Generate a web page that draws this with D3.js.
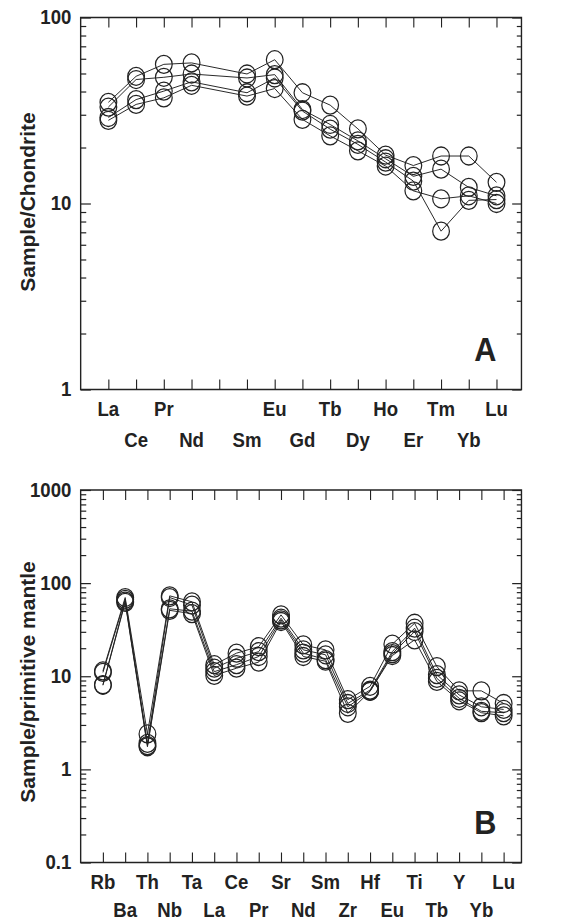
<!DOCTYPE html>
<html>
<head>
<meta charset="utf-8">
<script src="https://cdn.jsdelivr.net/npm/d3@7"></script>
<style>
  html, body { margin: 0; padding: 0; background: #fff; }
  svg { display: block; }
  text { font-family: "Liberation Sans", Arial, Helvetica, sans-serif; font-weight: bold; fill: #222; }
</style>
</head>
<body>
<svg id="chart" width="561" height="922" viewBox="0 0 603 922" preserveAspectRatio="none"></svg>
<script>
// ---------- Panel A: chondrite-normalised REE ----------
const reeElements = ["La","Ce","Pr","Nd","Pm","Sm","Eu","Gd","Tb","Dy","Ho","Er","Tm","Yb","Lu"];
const reeShownLabels = ["La","Ce","Pr","Nd","","Sm","Eu","Gd","Tb","Dy","Ho","Er","Tm","Yb","Lu"];
const reeSample1 = [35, 48.3, 56, 57, null, 49.7, 59.3, 39.4, 33.8, 25.2, 18.2, 16.0, 18.0, 18.0, 13.0];
const reeSample2 = [33, 46.4, 47.7, 49.7, null, 47.3, 49.3, 32.0, 26.6, 21.7, 17.4, 14.0, 15.3, 12.2, 11.0];
const reeSample3 = [29, 36.2, 40.2, 45.1, null, 39.4, 47.3, 31.4, 25.1, 20.8, 16.7, 13.2, 7.1, 10.4, 10.5];
const reeSample4 = [28, 34.1, 37.0, 43.2, null, 37.8, 41.5, 28.3, 23.1, 19.2, 15.9, 11.7, 10.6, 11.0, 10.0];
const reeYTicks = [1, 10, 100];

// ---------- Panel B: primitive-mantle-normalised spider ----------
const spiderElements = ["Rb","Ba","Th","Nb","Ta","La","Ce","Pr","Sr","Nd","Sm","Zr","Hf","Eu","Ti","Tb","Y","Yb","Lu"];
const spiderSample1 = [11.4, 70, 2.4, 73, 63, 13.3, 17.7, 20.8, 45.6, 21.7, 19.2, 5.6, 7.8, 22.1, 37.1, 12.7, 6.97, 6.97, 5.1];
const spiderSample2 = [11.0, 67, 1.9, 70, 58, 12.2, 15.6, 18.4, 42.0, 19.2, 17.0, 5.1, 7.1, 18.4, 32.8, 10.4, 6.3, 4.7, 4.4];
const spiderSample3 = [8.1, 64, 1.8, 53, 50, 11.2, 13.3, 16.3, 40.3, 17.7, 15.1, 4.7, 6.9, 17.5, 30.2, 9.5, 5.8, 4.2, 4.06];
const spiderSample4 = [8.0, 62, 1.75, 51, 47, 10.2, 12.2, 14.2, 38.7, 16.3, 14.5, 4.0, 6.9, 16.7, 24.6, 8.8, 5.45, 4.06, 3.76];
const spiderYTicks = [0.1, 1, 10, 100, 1000];

const svg = d3.select("#chart");
const INK = "#222";

function drawPanel(cfg) {
  const g = svg.append("g");
  const x = d3.scaleLinear().domain([0, cfg.xMax]).range([cfg.left, cfg.right]);
  const y = d3.scaleLog().domain(cfg.yDomain).range([cfg.bottom, cfg.top]);
  const idx = d3.range(1, cfg.labels.length + 1);

  // minor ticks for log axis
  const minor = [];
  for (let e = Math.log10(cfg.yDomain[0]); e < Math.log10(cfg.yDomain[1]); e++) {
    for (let m = 2; m <= 9; m++) minor.push(m * Math.pow(10, e));
  }

  const styleAxis = sel => {
    sel.select(".domain").remove();
    sel.selectAll("line").attr("stroke", INK).attr("stroke-width", 1.2);
    sel.selectAll("text").attr("font-size", 20).attr("fill", INK)
      .style("font-family", "'Liberation Sans', Arial, sans-serif").style("font-weight", "bold");
  };

  // left axis (major with labels, minor without)
  g.append("g").attr("transform", `translate(${cfg.left},0)`)
    .call(d3.axisLeft(y).tickValues(cfg.yTicks).tickSize(-11).tickPadding(10)
      .tickFormat(d => d3.format("~g")(d)))
    .call(styleAxis);
  g.append("g").attr("transform", `translate(${cfg.left},0)`)
    .call(d3.axisLeft(y).tickValues(minor).tickSize(-6).tickFormat(""))
    .call(styleAxis);
  // right axis
  g.append("g").attr("transform", `translate(${cfg.right},0)`)
    .call(d3.axisRight(y).tickValues(cfg.yTicks).tickSize(-10).tickFormat(""))
    .call(styleAxis);
  g.append("g").attr("transform", `translate(${cfg.right},0)`)
    .call(d3.axisRight(y).tickValues(minor).tickSize(-5).tickFormat(""))
    .call(styleAxis);
  // bottom & top axes (inward ticks)
  g.append("g").attr("transform", `translate(0,${cfg.bottom})`)
    .call(d3.axisBottom(x).tickValues(idx).tickSize(-10).tickFormat(""))
    .call(styleAxis);
  g.append("g").attr("transform", `translate(0,${cfg.top})`)
    .call(d3.axisTop(x).tickValues(idx).tickSize(-10).tickFormat(""))
    .call(styleAxis);

  // frame
  g.append("rect")
    .attr("x", cfg.left).attr("y", cfg.top)
    .attr("width", cfg.right - cfg.left).attr("height", cfg.bottom - cfg.top)
    .attr("fill", "none").attr("stroke", INK).attr("stroke-width", 1.5);

  // element labels in two staggered rows
  g.append("g").selectAll("text").data(cfg.labels.map((l, i) => ({ l, i: i + 1 })))
    .join("text")
    .attr("x", d => x(d.i))
    .attr("y", d => cfg.bottom + (d.i % 2 === 1 ? cfg.row1 : cfg.row2))
    .attr("text-anchor", "middle")
    .attr("font-size", 20)
    .text(d => d.l);

  // y title
  g.append("text")
    .attr("transform", `translate(${cfg.titleX},${cfg.titleY}) rotate(-90)`)
    .attr("text-anchor", "middle")
    .attr("font-size", 21)
    .text(cfg.title);

  // panel letter
  g.append("text")
    .attr("x", cfg.right - 27).attr("y", cfg.bottom - 28)
    .attr("text-anchor", "end")
    .attr("font-size", 33)
    .text(cfg.letter);

  // series
  const line = d3.line().x(d => x(d.i)).y(d => y(d.v));
  cfg.series.forEach(s => {
    const pts = s.map((v, i) => ({ v, i: i + 1 })).filter(d => d.v != null);
    g.append("path").datum(pts)
      .attr("d", line)
      .attr("fill", "none").attr("stroke", INK).attr("stroke-width", 1);
    g.append("g").selectAll("circle").data(pts).join("circle")
      .attr("cx", d => x(d.i)).attr("cy", d => y(d.v)).attr("r", 9)
      .attr("fill", "none").attr("stroke", INK).attr("stroke-width", 1.3);
  });
}

drawPanel({
  left: 86.7, right: 560.5, top: 17.5, bottom: 389.5,
  xMax: 15.9, yDomain: [1, 100], yTicks: reeYTicks,
  labels: reeShownLabels,
  series: [reeSample1, reeSample2, reeSample3, reeSample4],
  row1: 27, row2: 58,
  title: "Sample/Chondrite", titleX: 38, titleY: 202,
  letter: "A"
});

drawPanel({
  left: 86.7, right: 560.5, top: 490, bottom: 862.5,
  xMax: 19.8, yDomain: [0.1, 1000], yTicks: spiderYTicks,
  labels: spiderElements,
  series: [spiderSample1, spiderSample2, spiderSample3, spiderSample4],
  row1: 27, row2: 55,
  title: "Sample/primitive mantle", titleX: 38, titleY: 682,
  letter: "B"
});
</script>
</body>
</html>
